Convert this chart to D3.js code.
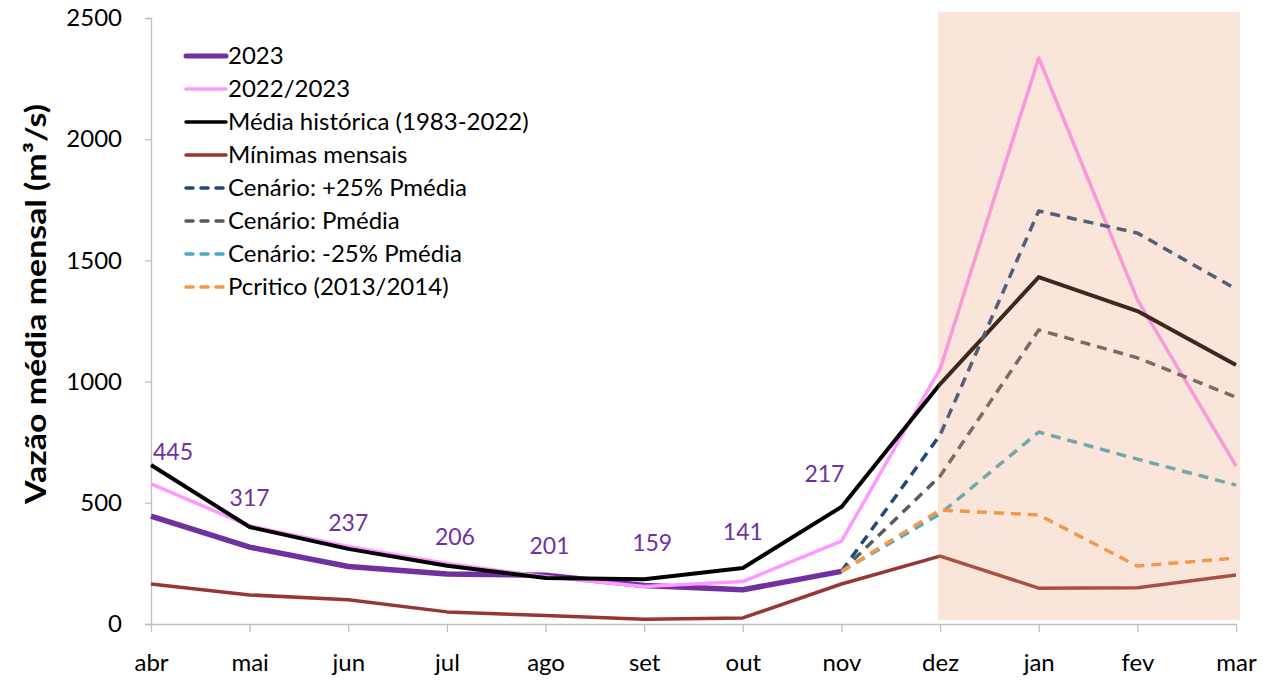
<!DOCTYPE html>
<html>
<head>
<meta charset="utf-8">
<script src="https://cdn.jsdelivr.net/npm/d3@7"></script>
<style>
  html, body { margin: 0; padding: 0; background: #fff; }
  svg { display: block; font-family: Lato, "Open Sans", sans-serif; }
</style>
</head>
<body>
<svg id="chart" width="1268" height="696"></svg>
<script>
// categories (hydrological year, apr -> mar)
const months = ['abr', 'mai', 'jun', 'jul', 'ago', 'set', 'out', 'nov', 'dez', 'jan', 'fev', 'mar'];
const yTicks = [0, 500, 1000, 1500, 2000, 2500];

// series values (m3/s), null = no value
const v2023 = [445, 317, 237, 206, 201, 159, 141, 217, null, null, null, null];
const v2022_2023 = [578, 405, 320, 250, 195, 155, 175, 342, 1052, 2335, 1338, 652];
const mediaHist = [656, 400, 310, 240, 190, 185, 231, 483, 990, 1431, 1291, 1068];
const minimas = [165, 120, 100, 50, 35, 20, 25, 165, 280, 148, 150, 202];
const cenMais25 = [null, null, null, null, null, null, null, 217, 780, 1704, 1613, 1382];
const cenMedia = [null, null, null, null, null, null, null, 217, 610, 1213, 1098, 936];
const cenMenos25 = [null, null, null, null, null, null, null, 217, 454, 792, 680, 573];
const pCritico = [null, null, null, null, null, null, null, 217, 470, 450, 239, 272];

// forecast window shaded on the chart
const shadeFrom = 'dez';
const shadeTo = 'mar';

const series = [
    { name: '2023', values: v2023, color: '#7030A0', width: 5.5, dash: null },
    { name: '2022/2023', values: v2022_2023, color: '#FF99FF', width: 3.5, dash: null },
    { name: 'Média histórica (1983-2022)', values: mediaHist, color: '#000000', width: 4, dash: null },
    { name: 'Mínimas mensais', values: minimas, color: '#953735', width: 3.5, dash: null },
    { name: 'Cenário: +25% Pmédia', values: cenMais25, color: '#1F497D', width: 3.5, dash: '10,7' },
    { name: 'Cenário: Pmédia', values: cenMedia, color: '#5A5A5A', width: 3.5, dash: '10,7' },
    { name: 'Cenário: -25% Pmédia', values: cenMenos25, color: '#4BACC6', width: 3.5, dash: '10,7' },
    { name: 'Pcritico (2013/2014)', values: pCritico, color: '#F79646', width: 3.5, dash: '10,7' }
];

const svg = d3.select('#chart');

const x = d3.scalePoint().domain(months).range([151, 1236]);
const y = d3.scaleLinear().domain([0, 2500]).range([624, 18]);

// axes
const yAxis = svg.append('g')
    .attr('transform', `translate(${x(months[0])},0)`)
    .call(d3.axisLeft(y).tickValues(yTicks).tickSize(6).tickPadding(23).tickFormat(d3.format('d')));
yAxis.select('.domain').attr('stroke', '#BFBFBF').attr('stroke-width', 1.3);
yAxis.selectAll('.tick line').attr('stroke', '#BFBFBF').attr('stroke-width', 1.3);
yAxis.selectAll('.tick text').attr('font-size', 24).attr('fill', '#000').attr('font-family', 'Lato');

const xAxis = svg.append('g')
    .attr('transform', `translate(0,${y(0)})`)
    .call(d3.axisBottom(x).tickSize(8).tickPadding(22).tickSizeOuter(0));
xAxis.select('.domain').attr('stroke', '#BFBFBF').attr('stroke-width', 1.3);
xAxis.selectAll('.tick line').attr('stroke', '#BFBFBF').attr('stroke-width', 1.3);
xAxis.selectAll('.tick text').attr('font-size', 24).attr('fill', '#000').attr('font-family', 'Lato');

// y axis title
svg.append('text')
    .attr('transform', `translate(46,${(104 + 504) / 2}) rotate(-90)`)
    .attr('text-anchor', 'middle')
    .attr('font-size', 28)
    .attr('font-weight', 'bold')
    .attr('textLength', 400)
    .attr('lengthAdjust', 'spacingAndGlyphs')
    .text('Vazão média mensal (m³/s)');

// lines
const line = d3.line()
    .defined(d => d.v !== null)
    .x(d => x(d.m))
    .y(d => y(d.v));

series.forEach(s => {
    svg.append('path')
        .datum(s.values.map((v, i) => ({ m: months[i], v })))
        .attr('fill', 'none')
        .attr('stroke', s.color)
        .attr('stroke-width', s.width)
        .attr('stroke-linejoin', 'round')
        .attr('stroke-dasharray', s.dash)
        .attr('d', line);
});

// shaded forecast window, translucent over the lines
svg.append('rect')
    .attr('x', x(shadeFrom) - 2)
    .attr('y', y(2525))
    .attr('width', x(shadeTo) - x(shadeFrom) + 6)
    .attr('height', y(16) - y(2525))
    .attr('fill', 'rgb(231,155,109)')
    .attr('opacity', 0.26);

// data labels for 2023 (manually nudged like the original)
const labelNudge = [[22, -56], [0, -41], [0, -36], [8, -29], [4, -21], [8, -34], [0, -50], [-17, -89]];
svg.append('g').selectAll('text')
    .data(v2023.map((v, i) => ({ m: months[i], v, i })).filter(d => d.v !== null))
    .enter()
    .append('text')
    .attr('x', d => x(d.m) + labelNudge[d.i][0])
    .attr('y', d => y(d.v) + labelNudge[d.i][1])
    .attr('text-anchor', 'middle')
    .attr('font-size', 23)
    .attr('fill', '#7030A0')
    .text(d => d.v);

// legend
const legend = svg.append('g').attr('transform', 'translate(186,56)');
const rows = legend.selectAll('g')
    .data(series)
    .enter()
    .append('g')
    .attr('transform', (d, i) => `translate(0,${i * 33})`);
rows.append('line')
    .attr('x1', 0).attr('x2', 40)
    .attr('stroke', d => d.color)
    .attr('stroke-width', d => d.width === 5.5 ? 5 : 3.5)
    .attr('stroke-linecap', 'round')
    .attr('stroke-dasharray', d => d.dash ? '7,8' : null);
rows.append('text')
    .attr('x', 42)
    .attr('dy', '0.35em')
    .attr('font-size', 24)
    .text(d => d.name);
</script>
</body>
</html>
